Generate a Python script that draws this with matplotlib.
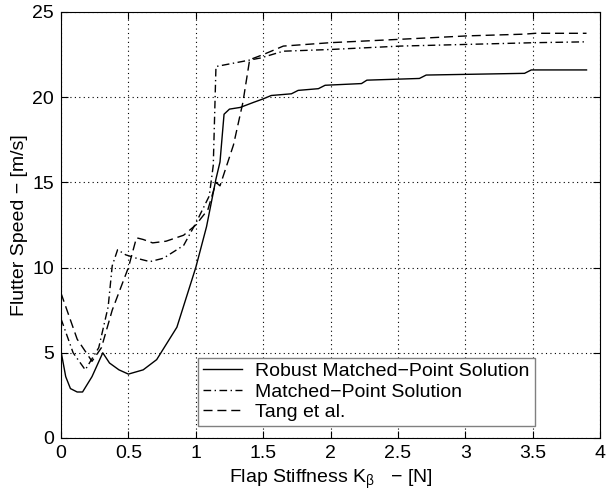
import matplotlib
matplotlib.use('Agg')
import matplotlib.pyplot as plt

plt.rcParams['font.family'] = ['Liberation Sans', 'DejaVu Sans']
plt.rcParams['mathtext.fontset'] = 'custom'
plt.rcParams['mathtext.rm'] = 'Liberation Sans'
plt.rcParams['mathtext.it'] = 'Liberation Sans'

# Robust matched-point solution
x_rob = [0.0, 0.035, 0.07, 0.12, 0.16, 0.23, 0.31, 0.36, 0.43, 0.5, 0.61, 0.71,
         0.86, 1.0, 1.08, 1.15, 1.18, 1.21, 1.25, 1.33, 1.43, 1.5, 1.56, 1.71,
         1.76, 1.91, 1.96, 2.23, 2.27, 2.66, 2.71, 3.44, 3.49, 3.9]
y_rob = [5.1, 3.6, 2.9, 2.7, 2.7, 3.6, 5.0, 4.4, 4.0, 3.75, 4.0, 4.6,
         6.5, 10.0, 12.4, 15.2, 16.2, 19.0, 19.3, 19.4, 19.7, 19.9, 20.1, 20.2,
         20.4, 20.5, 20.7, 20.8, 21.0, 21.1, 21.3, 21.4, 21.6, 21.6]

# Matched-point solution
x_mp = [0.0, 0.09, 0.18, 0.28, 0.35, 0.38, 0.42, 0.48, 0.56, 0.66, 0.76, 0.91,
        1.0, 1.1, 1.13, 1.15, 1.48, 1.65, 2.0, 2.52, 3.02, 3.52, 3.9]
y_mp = [7.0, 5.0, 4.0, 5.3, 7.7, 10.1, 11.05, 10.75, 10.55, 10.35, 10.55, 11.3,
        12.6, 14.2, 16.0, 21.8, 22.3, 22.7, 22.8, 23.0, 23.1, 23.2, 23.25]

# Tang et al.
x_tang = [0.0, 0.12, 0.23, 0.30, 0.38, 0.5, 0.56, 0.61, 0.68, 0.78, 0.91, 1.0,
          1.09, 1.15, 1.18, 1.28, 1.35, 1.40, 1.5, 1.65, 2.0, 2.52, 3.02, 3.44,
          3.52, 3.9]
y_tang = [8.5, 5.8, 4.5, 5.3, 7.5, 10.0, 11.75, 11.65, 11.45, 11.55, 11.9, 12.5,
          13.4, 15.0, 14.8, 17.2, 19.7, 22.2, 22.5, 23.0, 23.2, 23.4, 23.6, 23.7,
          23.75, 23.75]

fig = plt.figure(figsize=(6.16, 4.93), dpi=100)
ax = fig.add_axes([61/616, 1 - 438/493, 539/616, 426/493])

ax.plot(x_rob, y_rob, '-', color='black', lw=1.0, label='Robust Matched\u2212Point Solution')
ax.plot(x_mp, y_mp, color='black', lw=1.0, dashes=(5.5, 2.5, 1, 2.5), label='Matched\u2212Point Solution')
ax.plot(x_tang, y_tang, color='black', lw=1.0, dashes=(6.5, 3.5), label='Tang et al.')

ax.set_xlim(0, 4)
ax.set_ylim(0, 25)
ax.set_xticks([0, 0.5, 1, 1.5, 2, 2.5, 3, 3.5, 4])
ax.set_xticklabels(['0', '0.5', '1', '1.5', '2', '2.5', '3', '3.5', '4'])
ax.set_yticks([0, 5, 10, 15, 20, 25])
ax.grid(True, linestyle=(0, (1, 3)), color='black', lw=0.8)
ax.tick_params(direction='in', top=True, right=True, labelsize=14, length=5, pad=5)

ax.set_xlabel('Flap Stiffness K$_{\\beta}$   \u2212 [N]', fontsize=14, labelpad=4)
ax.set_ylabel('Flutter Speed \u2212 [m/s]', fontsize=14, labelpad=3)

leg = ax.legend(loc='lower left', bbox_to_anchor=(0.254, 0.028), borderaxespad=0,
                fontsize=14, fancybox=False, framealpha=1, edgecolor='gray',
                handlelength=2.0, handletextpad=0.7, labelspacing=0.15, borderpad=0.25)
leg.get_frame().set_linewidth(1.0)

plt.savefig('out.png', dpi=100)
